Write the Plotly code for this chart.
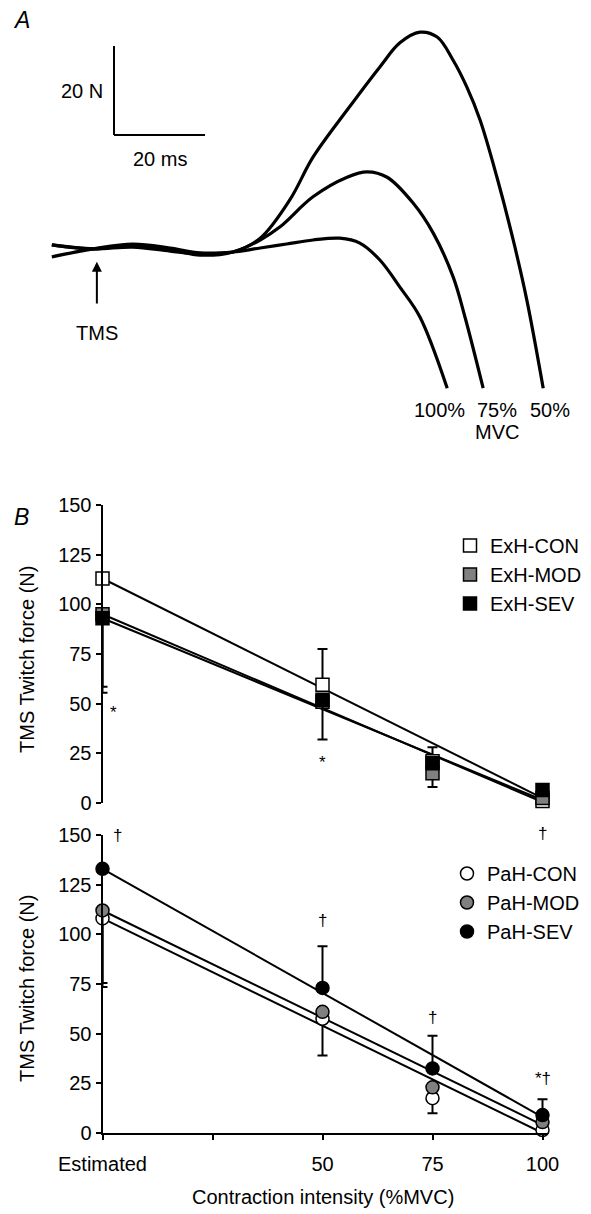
import plotly.graph_objects as go

# Page body has an 8px margin; the figure is sized to fill the rest of the 591x1214 window.
OFF = 8
W, H = 591 - OFF, 1214 - OFF
FONT = "Liberation Sans, Arial, Helvetica, sans-serif"

# ---------------- Panel A: TMS twitch traces (time in ms, force in N) ----------------
t_100 = [0.4, 9.5, 18.2, 26.4, 33.0, 40.2, 46.2, 52.0, 57.8, 63.7, 68.1, 72.5, 76.9, 81.3, 87.3]
f_100 = [-2.0, -0.2, 0.9, 0.0, -1.1, -0.9, 0.0, 0.9, 1.8, 2.2, 1.1, -2.7, -8.8, -15.5, -31.5]

t_75 = [0.4, 9.5, 18.2, 26.4, 33.0, 40.2, 46.2, 50.5, 57.8, 65.3, 69.7, 74.1, 79.8, 84.2, 88.6, 91.2, 95.2]
f_75 = [0.7, -0.2, 0.2, -0.7, -1.3, -0.9, 1.8, 4.7, 11.5, 15.9, 17.1, 15.9, 10.1, 3.4, -6.5, -15.5, -31.5]

t_50 = [0.4, 9.5, 18.2, 26.4, 33.0, 40.2, 46.2, 52.7, 57.8, 65.3, 72.5, 76.9, 81.3, 85.1, 88.6,
        91.6, 94.5, 98.2, 101.8, 104.8, 108.4]
f_50 = [0.7, -0.2, 0.7, -0.4, -1.6, -0.9, 2.2, 10.8, 20.4, 31.0, 40.7, 46.1, 48.5, 47.4, 42.2,
        36.2, 28.8, 16.0, 1.8, -11.7, -31.5]

trace_labels = ["100%", "75%", "50%"]
scale_force = 20   # N
scale_time = 20    # ms
stim_time = 10.3   # ms (TMS arrow)

# ---------------- Panel B data ----------------
intensity = [0, 50, 75, 100]
x_ticks = [0, 25, 50, 75, 100]
x_ticktext = ["Estimated", "", "50", "75", "100"]
y_ticks = [0, 25, 50, 75, 100, 125, 150]

# ExH (upper)
exh_con = [113, 59.5, 21, 1]
exh_mod = [95, 51, 15, 2.5]
exh_sev = [93, 52, 20, 6.5]
exh_con_plus = [0, 18, 7, 0]
exh_con_minus = [0, 0, 0, 8]
exh_mod_plus = [0, 0, 0, 0]
exh_mod_minus = [36.5, 0, 7, 0]
exh_sev_plus = [0, 0, 0, 0]
exh_sev_minus = [37.5, 20, 0, 0]
fit_x = [0, 100]
exh_con_fit = [113, 2.5]
exh_mod_fit = [95, 0.5]
exh_sev_fit = [93, 1.5]

# PaH (lower)
pah_con = [108, 57.5, 17.5, 1.5]
pah_mod = [112, 61, 23, 5.5]
pah_sev = [133, 73, 32.5, 9]
pah_con_plus = [0, 0, 0, 0]
pah_con_minus = [34.5, 18.5, 7.5, 5.5]
pah_mod_plus = [0, 0, 0, 0]
pah_mod_minus = [36.5, 0, 0, 0]
pah_sev_plus = [0, 21, 16.5, 8]
pah_sev_minus = [0, 0, 0, 0]
pah_con_fit = [108, 0]
pah_mod_fit = [112, 4]
pah_sev_fit = [133, 8]

GRAY = "#808080"

fig = go.Figure()

# Panel A traces
for t, f in [(t_100, f_100), (t_75, f_75), (t_50, f_50)]:
    fig.add_trace(go.Scatter(x=t, y=f, mode="lines",
                             line=dict(color="black", width=3.2, shape="spline", smoothing=1.0),
                             showlegend=False, hoverinfo="skip", xaxis="x", yaxis="y"))


def add_group(xa, ya, legend, fits, series, symbol):
    for fy in fits:
        fig.add_trace(go.Scatter(x=fit_x, y=fy, mode="lines", line=dict(color="black", width=2),
                                 showlegend=False, hoverinfo="skip", xaxis=xa, yaxis=ya, cliponaxis=False))
    for name, vals, plus, minus, fill in series:
        fig.add_trace(go.Scatter(
            x=intensity, y=vals, mode="markers", name=name, legend=legend,
            marker=dict(symbol=symbol, size=13, color=fill, line=dict(color="black", width=1.5)),
            error_y=dict(type="data", array=plus, arrayminus=minus, symmetric=False,
                         color="black", thickness=2, width=5),
            xaxis=xa, yaxis=ya, cliponaxis=False))


add_group("x2", "y2", "legend", [exh_con_fit, exh_mod_fit, exh_sev_fit], [
    ("ExH-CON", exh_con, exh_con_plus, exh_con_minus, "white"),
    ("ExH-MOD", exh_mod, exh_mod_plus, exh_mod_minus, GRAY),
    ("ExH-SEV", exh_sev, exh_sev_plus, exh_sev_minus, "black"),
], "square")

add_group("x3", "y3", "legend2", [pah_con_fit, pah_mod_fit, pah_sev_fit], [
    ("PaH-CON", pah_con, pah_con_plus, pah_con_minus, "white"),
    ("PaH-MOD", pah_mod, pah_mod_plus, pah_mod_minus, GRAY),
    ("PaH-SEV", pah_sev, pah_sev_plus, pah_sev_minus, "black"),
], "circle")


# geometry helpers (window pixel -> paper fraction)
def px(x):
    return (x - OFF) / W


def py(y):
    return 1 - (y - OFF) / H


xdom = [px(102.5), px(548)]
xrange_b = [0, (548 - 102.5) / 4.4]

axis_common = dict(showgrid=False, zeroline=False, automargin=False)
yaxis_style = dict(showline=True, linecolor="black", linewidth=2, ticks="outside", ticklen=5, tickwidth=2,
                   tickcolor="black", tickfont=dict(size=20), tickvals=y_ticks, range=[0, 150])

fig.update_layout(
    width=W, height=H, margin=dict(l=0, r=0, t=0, b=0, autoexpand=False),
    paper_bgcolor="white", plot_bgcolor="rgba(0,0,0,0)",
    font=dict(family=FONT, size=20, color="black"),
    xaxis=dict(domain=[0, 1], range=[(OFF - 50) / 4.55, (591 - 50) / 4.55], visible=False, **axis_common),
    yaxis=dict(domain=[py(450), 1], range=[(248 - 450) / 4.45, (248 - OFF) / 4.45], visible=False, **axis_common),
    xaxis2=dict(domain=xdom, range=xrange_b, anchor="y2", visible=False, **axis_common),
    yaxis2=dict(domain=[py(803), py(505)], anchor="x2", **yaxis_style, **axis_common),
    xaxis3=dict(domain=xdom, range=xrange_b, anchor="y3", tickvals=x_ticks, ticktext=x_ticktext,
                showline=True, linecolor="black", linewidth=2, ticks="outside", ticklen=5, tickwidth=2,
                tickcolor="black", tickfont=dict(size=20), ticklabelstandoff=7, **axis_common),
    yaxis3=dict(domain=[py(1133), py(835)], anchor="x3", **yaxis_style, **axis_common),
    legend=dict(x=px(450), y=py(526), xref="container", yref="container", xanchor="left", yanchor="top",
                bgcolor="rgba(0,0,0,0)", font=dict(size=20), itemwidth=30),
    legend2=dict(x=px(447), y=py(854), xref="container", yref="container", xanchor="left", yanchor="top",
                 bgcolor="rgba(0,0,0,0)", font=dict(size=20), itemwidth=30),
)

# Scale bars in panel A
sb_t0, sb_f0 = (114 - 50) / 4.55, (248 - 135) / 4.45
fig.add_shape(type="line", xref="x", yref="y", x0=sb_t0, x1=sb_t0, y0=sb_f0, y1=sb_f0 + scale_force,
              line=dict(color="black", width=2))
fig.add_shape(type="line", xref="x", yref="y", x0=sb_t0, x1=sb_t0 + scale_time, y0=sb_f0, y1=sb_f0,
              line=dict(color="black", width=2))

C = dict(xanchor="center", yanchor="middle", showarrow=False)
ann = []
ann.append(dict(text="%d N" % scale_force, x=sb_t0 - 2, y=sb_f0 + scale_force / 2, xref="x", yref="y",
                xanchor="right", yanchor="middle", showarrow=False))
ann.append(dict(text="%d ms" % scale_time, x=sb_t0 + scale_time / 2, y=sb_f0 - 5.5, xref="x", yref="y", **C))
ann.append(dict(text="", x=stim_time, y=-3.1, ax=stim_time, ay=-12.8, xref="x", yref="y", axref="x", ayref="y",
                showarrow=True, arrowhead=2, arrowsize=1, arrowwidth=2, arrowcolor="black"))
ann.append(dict(text="TMS", x=stim_time, y=-19.1, xref="x", yref="y", **C))
for lab, tx in zip(trace_labels, [85.7, 98.2, 109.9]):
    ann.append(dict(text=lab, x=tx, y=-36.4, xref="x", yref="y", **C))
ann.append(dict(text="MVC", x=98.2, y=-41.3, xref="x", yref="y", **C))

# Panel letters
ann.append(dict(text="<i>A</i>", x=px(21), y=py(20), xref="paper", yref="paper", font=dict(size=23), **C))
ann.append(dict(text="<i>B</i>", x=px(21), y=py(517), xref="paper", yref="paper", font=dict(size=23), **C))

# Axis titles
ann.append(dict(text="TMS Twitch force (N)", x=px(27), y=py(660), xref="paper", yref="paper",
                textangle=-90, **C))
ann.append(dict(text="TMS Twitch force (N)", x=px(27), y=py(989), xref="paper", yref="paper",
                textangle=-90, **C))
ann.append(dict(text="Contraction intensity (%MVC)", x=px(323), y=py(1197), xref="paper", yref="paper", **C))

# Significance markers (x in data units, y in window pixels)
sig_upper = [("*", 2.4, 712), ("*", 50, 762), ("†", 100, 833)]
sig_lower = [("†", 3.5, 835), ("†", 50, 920), ("†", 75, 1017), ("*†", 100, 1078)]
for s, x, y in sig_upper:
    ann.append(dict(text=s, x=x, y=py(y), xref="x2", yref="paper", font=dict(size=17), **C))
for s, x, y in sig_lower:
    ann.append(dict(text=s, x=x, y=py(y), xref="x3", yref="paper", font=dict(size=17), **C))

fig.update_layout(annotations=ann)

fig.write_html("out.html")
